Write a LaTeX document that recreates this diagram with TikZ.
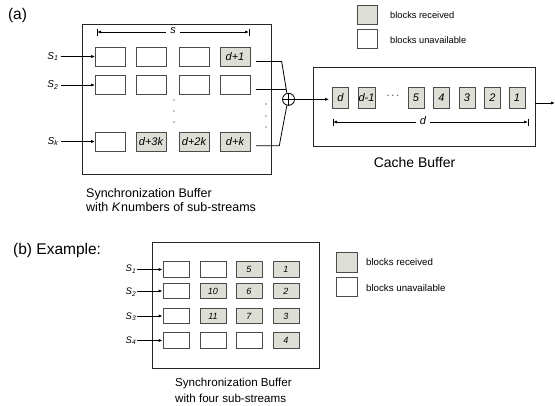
\documentclass[tikz,border=0pt]{standalone}
\usepackage{fontspec}
\setmainfont{Liberation Sans}
\usetikzlibrary{arrows.meta}
\definecolor{rcv}{RGB}{221,223,214}
\definecolor{edgec}{RGB}{75,75,75}
\begin{document}
\begin{tikzpicture}[x=1pt,y=-1pt,
  frame/.style={draw=black!85, line width=0.8pt, inner sep=0pt},
  blka/.style={draw=edgec, line width=0.9pt, minimum width=30pt, minimum height=19pt, inner sep=0pt, font=\fontsize{11}{12}\selectfont\itshape},
  blkc/.style={draw=edgec, line width=0.9pt, minimum width=16pt, minimum height=21pt, inner sep=0pt, font=\fontsize{11}{12}\selectfont\itshape},
  blkb/.style={draw=edgec, line width=0.9pt, minimum width=26pt, minimum height=15.5pt, inner sep=0pt, font=\fontsize{9}{10}\selectfont\itshape},
  got/.style={fill=rcv},
  lega/.style={draw=edgec, line width=0.8pt, minimum width=20pt, minimum height=19pt, inner sep=0pt},
  legt/.style={anchor=west, inner sep=0pt, font=\fontsize{9.3}{11}\selectfont},
  slab/.style={inner sep=0pt, font=\fontsize{10}{11}\selectfont\itshape},
  sblab/.style={inner sep=0pt, font=\fontsize{9.5}{10}\selectfont\itshape},
  arr/.style={-{Latex[length=4pt,width=3.2pt]}, line width=0.8pt},
  dimarr/.style={{Latex[length=4pt,width=3pt]}-{Latex[length=4pt,width=3pt]}, line width=0.7pt},
  ln/.style={line width=0.8pt},
  big/.style={inner sep=0pt, font=\fontsize{15.5}{17}\selectfont},
]
\useasboundingbox (0,0) rectangle (555,405);
\fill[white] (0,0) rectangle (555,405);

% ---------------- (a) ----------------
\node[big] (la) at (17.5,15) {(a)};
\node[frame, minimum width=189pt, minimum height=150pt] (abox) at (176.5,99) {};

% s dimension
\coordinate (s0) at (97,32);
\coordinate (s1e) at (249,32);
\draw[dimarr] (s0) -- (s1e);
\draw[line width=0.7pt] (97,28.5) -- (97,35.5) (249,28.5) -- (249,35.5);
\node[fill=white, inner xsep=4pt, inner ysep=1pt, font=\fontsize{11}{12}\selectfont\itshape] (slbl) at (173,31) {s};

% blocks row 1
\node[blka] (a11) at (110.5,56.5) {};
\node[blka] (a12) at (151,56.5) {};
\node[blka] (a13) at (194,56.5) {};
\node[blka,got] (a14) at (235,56.5) {d+1};
% row 2
\node[blka] (a21) at (110.5,85) {};
\node[blka] (a22) at (151,85) {};
\node[blka] (a23) at (194,85) {};
\node[blka] (a24) at (235,85) {};
% row k
\node[blka] (ak1) at (110.5,141.5) {};
\node[blka,got] (ak2) at (151,141.5) {d+3k};
\node[blka,got] (ak3) at (194,141.5) {d+2k};
\node[blka,got] (ak4) at (235,141.5) {d+k};

% stream labels
\node[slab] (sa1) at (53,56.5) {S\textsubscript{1}};
\node[slab] (sa2) at (53,85) {S\textsubscript{2}};
\node[slab] (sak) at (53,141.5) {S\textsubscript{k}};
\draw[arr] (sa1.east) ++(2,0) -- (a11.west);
\draw[arr] (sa2.east) ++(2,0) -- (a21.west);
\draw[arr] (sak.east) ++(2,0) -- (ak1.west);

% dots
\foreach \y in {100,111,122} \fill (174,\y) circle (0.7pt);
\foreach \y in {104,116,127} \fill (266,\y) circle (0.7pt);

% summation node
\node[draw, circle, line width=0.8pt, minimum size=12pt, inner sep=0pt] (sum) at (288.5,99.3) {};
\draw[line width=0.8pt] (sum.north) -- (sum.south) (sum.west) -- (sum.east);

% funnel lines
\coordinate (f1a) at (256,61.5);
\coordinate (f1b) at (281.7,61.5);
\coordinate (f2a) at (256,89.5);
\coordinate (f2b) at (286.3,89.5);
\coordinate (f3a) at (256,145.7);
\coordinate (f3b) at (279.3,145.7);
\draw[ln] (f1a) -- (f1b) -- (sum.105);
\draw[ln] (f2a) -- (f2b);
\draw[ln] (f3a) -- (f3b) -- (sum.255);

% cache buffer
\node[frame, minimum width=222pt, minimum height=79pt] (cache) at (424,106.5) {};
\node[blkc,got] (cd) at (340.5,97.5) {d};
\node[blkc,got, minimum width=17pt] (cd1) at (366.5,97.5) {d-1};
\node[inner sep=0pt, font=\fontsize{11}{12}\selectfont] (cdots) at (393,96) {$\cdots$};
\node[blkc,got] (c5) at (416,97.5) {5};
\node[blkc,got] (c4) at (441.5,97.5) {4};
\node[blkc,got] (c3) at (467,97.5) {3};
\node[blkc,got] (c2) at (492.5,97.5) {2};
\node[blkc,got] (c1) at (517,97.5) {1};
\draw[arr] (sum.east) -- ([xshift=-3pt]sum.east -| cd.west);

% d dimension
\draw[dimarr] (333,122) -- (528,122);
\draw[line width=0.7pt] (333,118.5) -- (333,125.5) (528,118.5) -- (528,125.5);
\node[fill=white, inner xsep=4pt, inner ysep=1pt, font=\fontsize{11}{12}\selectfont\itshape] (dlbl) at (423,121) {d};

% output
\coordinate (out) at (555,103);
\draw[arr] (cache.east |- out) -- (out);

\node[inner sep=0pt, font=\fontsize{14}{16}\selectfont] (cbl) at (414.5,162) {Cache Buffer};

% sync text (a)
\node[anchor=west, inner sep=0pt, font=\fontsize{12.5}{14}\selectfont] (sya1) at (86,194) {Synchronization Buffer};
\node[anchor=west, inner sep=0pt, font=\fontsize{12.5}{14}\selectfont] (sya2) at (86,207.5) {with \textit{K}\kern0.5pt numbers of sub-streams};

% legend (a)
\node[lega,got] (lg1) at (367,14.5) {};
\node[lega] (lg2) at (367,38.5) {};
\node[legt] (lt1) at (390,15) {blocks received};
\node[legt] (lt2) at (390,40) {blocks unavailable};

% ---------------- (b) ----------------
\node[big, anchor=west] (lb) at (13,250) {(b) Example:};
\node[frame, minimum width=167pt, minimum height=126pt] (bbox) at (235.5,305) {};

\node[blkb] (b11) at (176,269.5) {};
\node[blkb] (b12) at (213,269.5) {};
\node[blkb,got] (b13) at (249,269.5) {5};
\node[blkb,got] (b14) at (286,269.5) {1};

\node[blkb] (b21) at (176,291) {};
\node[blkb,got] (b22) at (213,291) {10};
\node[blkb,got] (b23) at (249,291) {6};
\node[blkb,got] (b24) at (286,291) {2};

\node[blkb] (b31) at (176,316) {};
\node[blkb,got] (b32) at (213,316) {11};
\node[blkb,got] (b33) at (249,316) {7};
\node[blkb,got] (b34) at (286,316) {3};

\node[blkb] (b41) at (176,340.5) {};
\node[blkb] (b42) at (213,340.5) {};
\node[blkb] (b43) at (249,340.5) {};
\node[blkb,got] (b44) at (286,340.5) {4};

\node[sblab] (sb1) at (131,269) {S\textsubscript{1}};
\node[sblab] (sb2) at (131,292) {S\textsubscript{2}};
\node[sblab] (sb3) at (131,316.5) {S\textsubscript{3}};
\node[sblab] (sb4) at (131,340.5) {S\textsubscript{4}};
\draw[arr] ([xshift=0.5pt]sb1.east |- b11.west) -- (b11.west);
\draw[arr] ([xshift=0.5pt]sb2.east |- b21.west) -- (b21.west);
\draw[arr] ([xshift=0.5pt]sb3.east |- b31.west) -- (b31.west);
\draw[arr] ([xshift=0.5pt]sb4.east |- b41.west) -- (b41.west);

% legend (b)
\node[lega,got, minimum width=21pt, minimum height=20pt] (lbg1) at (346.5,262) {};
\node[lega, minimum width=21pt, minimum height=19pt] (lbg2) at (346.5,286.5) {};
\node[legt, font=\fontsize{9.7}{11}\selectfont] (lbt1) at (366,262) {blocks received};
\node[legt, font=\fontsize{9.7}{11}\selectfont] (lbt2) at (366,288) {blocks unavailable};

% sync text (b)
\node[anchor=west, inner sep=0pt, font=\fontsize{11.6}{13}\selectfont] (syb1) at (175,383) {Synchronization Buffer};
\node[anchor=west, inner sep=0pt, font=\fontsize{11.6}{13}\selectfont] (syb2) at (175,398) {with four sub-streams};
\end{tikzpicture}
\end{document}
